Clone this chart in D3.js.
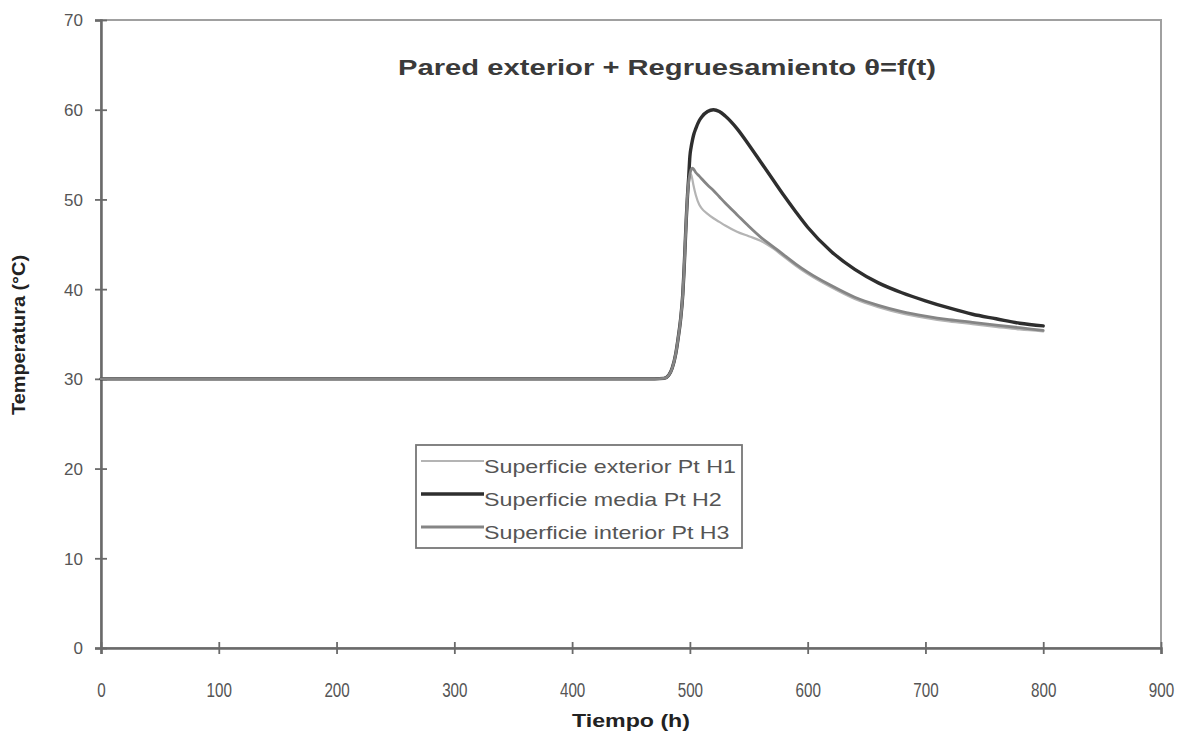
<!DOCTYPE html>
<html>
<head>
<meta charset="utf-8">
<script src="https://cdn.jsdelivr.net/npm/d3@7"></script>
<style>
  html, body { margin: 0; padding: 0; background: #fff; }
  svg { display: block; }
</style>
</head>
<body>
<svg id="chart" width="1186" height="734"></svg>
<script>
// ---- data ----
const times = [0, 470, 478, 482, 485, 488, 490, 492, 494, 495, 496, 497, 498, 499, 500, 501, 502, 503, 505, 508, 510, 515, 520, 525, 530, 540, 550, 560, 570, 580, 590, 600, 620, 640, 660, 680, 700, 720, 740, 760, 780, 800];
const seriesH1 = [30, 30, 30.05, 30.4, 31.2, 32.8, 34.5, 36.5, 39.5, 42, 45, 48, 50.5, 52, 52.7, 52.8, 52.3, 51.6, 50.5, 49.4, 49.0, 48.4, 47.9, 47.5, 47.1, 46.4, 45.9, 45.4, 44.6, 43.6, 42.6, 41.7, 40.2, 38.9, 38.0, 37.3, 36.8, 36.4, 36.1, 35.8, 35.5, 35.3];
const seriesH2 = [30, 30, 30.05, 30.4, 31.2, 32.8, 34.5, 36.5, 39.5, 42, 45, 48, 50.5, 52.5, 54.8, 55.8, 56.5, 57.1, 57.9, 58.8, 59.2, 59.8, 60.0, 59.8, 59.3, 57.9, 56.1, 54.2, 52.3, 50.4, 48.6, 46.9, 44.2, 42.2, 40.7, 39.6, 38.7, 37.9, 37.2, 36.7, 36.2, 35.9];
const seriesH3 = [30, 30, 30.05, 30.4, 31.2, 32.8, 34.5, 36.5, 39.5, 42, 45, 48, 50.5, 52, 52.8, 53.3, 53.5, 53.4, 53.0, 52.6, 52.3, 51.6, 51.0, 50.3, 49.6, 48.3, 47.0, 45.8, 44.8, 43.8, 42.8, 41.9, 40.4, 39.1, 38.2, 37.5, 37.0, 36.6, 36.3, 36.0, 35.7, 35.4];
const seriesNames = ["Superficie exterior Pt H1", "Superficie media Pt H2", "Superficie interior Pt H3"];
const xTicks = [0, 100, 200, 300, 400, 500, 600, 700, 800, 900];
const yTicks = [0, 10, 20, 30, 40, 50, 60, 70];
const titleText = "Pared exterior + Regruesamiento  \u03B8=f(t)";
const xLabel = "Tiempo (h)";
const yLabel = "Temperatura (\u00B0C)";

// ---- layout ----
const W = 1186, H = 734;
const margin = { top: 20, right: 25, bottom: 86, left: 101 };
const svg = d3.select("#chart");

const x = d3.scaleLinear().domain([0, 900]).range([margin.left, W - margin.right]);
const y = d3.scaleLinear().domain([0, 70]).range([H - margin.bottom, margin.top]);

// plot frame (top & right)
svg.append("rect")
  .attr("x", x(0)).attr("y", y(70))
  .attr("width", x(900) - x(0)).attr("height", y(0) - y(70))
  .attr("fill", "none").attr("stroke", "#a0a0a0").attr("stroke-width", 2);

// axes
const xAxis = svg.append("g")
  .attr("transform", `translate(0,${y(0)})`)
  .call(d3.axisBottom(x).tickValues(xTicks).tickSize(6).tickPadding(29));
const yAxis = svg.append("g")
  .attr("transform", `translate(${x(0)},0)`)
  .call(d3.axisLeft(y).tickValues(yTicks).tickSize(6).tickPadding(12));

[xAxis, yAxis].forEach(g => {
  g.select(".domain").attr("stroke", "#6a6a6a").attr("stroke-width", 2.5);
  g.selectAll(".tick line").attr("stroke", "#6a6a6a").attr("stroke-width", 1.8);
  g.selectAll(".tick text")
    .attr("fill", "#555")
    .style("font-family", "'Liberation Sans', Arial, sans-serif");
});
xAxis.selectAll(".tick line").attr("y1", -6).attr("y2", 6);
yAxis.selectAll(".tick line").attr("x1", 6).attr("x2", -6);
xAxis.selectAll(".tick text")
  .style("font-size", "19.5px")
  .attr("transform", "scale(0.78,1)")
  .attr("x", 0)
  .attr("text-anchor", "middle");
yAxis.selectAll(".tick text").style("font-size", "17px").attr("dy", "0.35em");

// lines
const line = d3.line()
  .x((d, i) => x(times[i]))
  .y(d => y(d))
  .curve(d3.curveMonotoneX);

const styles = [
  { data: seriesH1, color: "#b4b4b4", width: 2.2 },
  { data: seriesH2, color: "#2e2e2e", width: 3.4 },
  { data: seriesH3, color: "#858585", width: 2.8 }
];
styles.forEach(s => {
  svg.append("path")
    .datum(s.data)
    .attr("d", line)
    .attr("fill", "none")
    .attr("stroke", s.color)
    .attr("stroke-width", s.width)
    .attr("stroke-linejoin", "round")
    .attr("stroke-linecap", "round");
});

// title
svg.append("text")
  .attr("x", 398).attr("y", 75)
  .attr("textLength", 538).attr("lengthAdjust", "spacingAndGlyphs")
  .attr("fill", "#3a3a3a")
  .style("font-family", "'Liberation Sans', Arial, sans-serif")
  .style("font-weight", "bold").style("font-size", "22px")
  .text(titleText);

// axis labels
svg.append("text")
  .attr("x", 572).attr("y", 727)
  .attr("textLength", 118).attr("lengthAdjust", "spacingAndGlyphs")
  .attr("fill", "#222")
  .style("font-family", "'Liberation Sans', Arial, sans-serif")
  .style("font-weight", "bold").style("font-size", "18px")
  .text(xLabel);

svg.append("text")
  .attr("transform", `translate(25,${415}) rotate(-90)`)
  .attr("textLength", 160).attr("lengthAdjust", "spacingAndGlyphs")
  .attr("fill", "#222")
  .style("font-family", "'Liberation Sans', Arial, sans-serif")
  .style("font-weight", "bold").style("font-size", "18px")
  .text(yLabel);

// legend
const lg = svg.append("g");
lg.append("rect")
  .attr("x", 416).attr("y", 445).attr("width", 326).attr("height", 103)
  .attr("fill", "#fff").attr("stroke", "#777").attr("stroke-width", 1.8);
const legendY = [461, 494, 527];
const legendTexts = [];
styles.forEach((s, i) => {
  lg.append("line")
    .attr("x1", 421).attr("x2", 484)
    .attr("y1", legendY[i]).attr("y2", legendY[i])
    .attr("stroke", s.color).attr("stroke-width", s.width);
  legendTexts.push(lg.append("text")
    .attr("x", 484).attr("y", legendY[i] + 12)
    .attr("fill", "#555")
    .style("font-family", "'Liberation Sans', Arial, sans-serif")
    .style("font-size", "19px")
    .text(seriesNames[i]));
});
// stretch legend text horizontally to match the reference's wide lettering
const stretch = 252 / legendTexts[0].node().getComputedTextLength();
legendTexts.forEach(t => {
  const w = t.node().getComputedTextLength();
  t.attr("textLength", w * stretch).attr("lengthAdjust", "spacingAndGlyphs");
});
</script>
</body>
</html>
